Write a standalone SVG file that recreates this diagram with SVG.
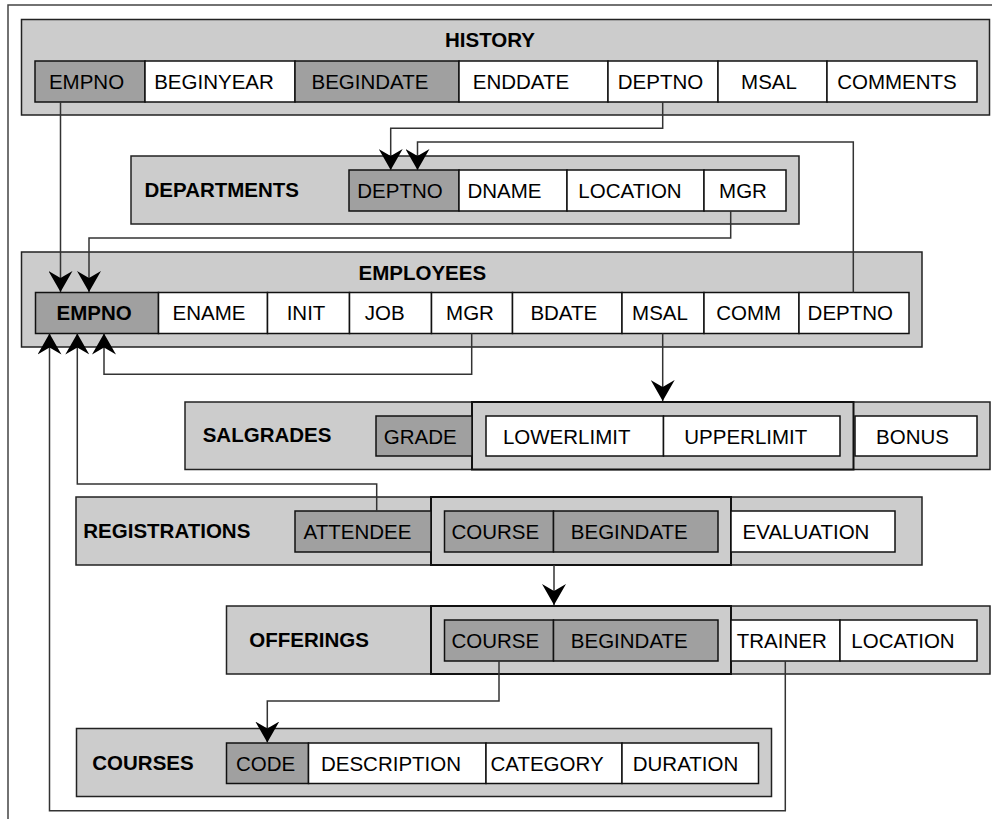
<svg xmlns="http://www.w3.org/2000/svg" width="992" height="819" viewBox="0 0 992 819">
<style>
  .frame{fill:none;stroke:#444;stroke-width:1.5}
  .tbl{fill:#cccccc;stroke:#222;stroke-width:1.5}
  .grp{fill:#cccccc;stroke:#111;stroke-width:2}
  .pk{fill:#a0a0a0;stroke:#111;stroke-width:1.5}
  .fld{fill:#ffffff;stroke:#111;stroke-width:1.5}
  .title{font-family:"Liberation Sans",Arial,Helvetica,sans-serif;font-size:20.5px;font-weight:bold;fill:#000}
  .t{font-family:"Liberation Sans",Arial,Helvetica,sans-serif;font-size:20.5px;fill:#000;text-anchor:middle}
  .tb{font-weight:bold}
  .conn{fill:none;stroke:#333;stroke-width:1.5;marker-end:url(#arr)}
</style>
<defs>
  <marker id="arr" viewBox="0 0 21 24" refX="21" refY="12" markerWidth="21" markerHeight="24" markerUnits="userSpaceOnUse" orient="auto">
    <path d="M0,0 L21,12 L0,24 L7,12 Z" fill="#000"/>
  </marker>
</defs>
<rect width="992" height="819" fill="#ffffff"/>
<path class="frame" d="M8,819 V5 H992"/>

<g id="history">
  <rect class="tbl" x="21.5" y="19.5" width="968" height="95.5"/>
  <text class="title" x="445" y="47">HISTORY</text>
  <rect class="pk" x="35" y="61" width="110" height="41"/>
  <rect class="fld" x="145" y="61" width="150" height="41"/>
  <rect class="pk" x="295" y="61" width="164" height="41"/>
  <rect class="fld" x="459" y="61" width="149" height="41"/>
  <rect class="fld" x="608" y="61" width="110" height="41"/>
  <rect class="fld" x="718" y="61" width="109" height="41"/>
  <rect class="fld" x="827" y="61" width="150" height="41"/>
  <text class="t" x="86.5" y="89">EMPNO</text>
  <text class="t" x="214" y="89">BEGINYEAR</text>
  <text class="t" x="370" y="89">BEGINDATE</text>
  <text class="t" x="521" y="89">ENDDATE</text>
  <text class="t" x="660.5" y="89">DEPTNO</text>
  <text class="t" x="769" y="89">MSAL</text>
  <text class="t" x="897" y="89">COMMENTS</text>
</g>

<g id="departments">
  <rect class="tbl" x="131" y="156" width="668" height="68"/>
  <text class="title" x="144.5" y="197">DEPARTMENTS</text>
  <rect class="pk" x="349" y="170" width="110" height="41"/>
  <rect class="fld" x="459" y="170" width="108" height="41"/>
  <rect class="fld" x="567" y="170" width="137" height="41"/>
  <rect class="fld" x="704" y="170" width="82" height="41"/>
  <text class="t" x="400" y="198">DEPTNO</text>
  <text class="t" x="504.5" y="198">DNAME</text>
  <text class="t" x="630" y="198">LOCATION</text>
  <text class="t" x="743" y="198">MGR</text>
</g>

<g id="employees">
  <rect class="tbl" x="21.5" y="252" width="900.5" height="95"/>
  <text class="title" x="358.5" y="279.5">EMPLOYEES</text>
  <rect class="pk" x="35.5" y="292.5" width="123" height="41"/>
  <rect class="fld" x="158.5" y="292.5" width="109" height="41"/>
  <rect class="fld" x="267.5" y="292.5" width="82" height="41"/>
  <rect class="fld" x="349.5" y="292.5" width="82" height="41"/>
  <rect class="fld" x="431.5" y="292.5" width="81" height="41"/>
  <rect class="fld" x="512.5" y="292.5" width="109.5" height="41"/>
  <rect class="fld" x="622" y="292.5" width="82" height="41"/>
  <rect class="fld" x="704" y="292.5" width="95" height="41"/>
  <rect class="fld" x="799" y="292.5" width="110" height="41"/>
  <text class="t tb" x="94.2" y="320">EMPNO</text>
  <text class="t" x="209" y="320">ENAME</text>
  <text class="t" x="306" y="320">INIT</text>
  <text class="t" x="384.7" y="320">JOB</text>
  <text class="t" x="470" y="320">MGR</text>
  <text class="t" x="563.8" y="320">BDATE</text>
  <text class="t" x="660" y="320">MSAL</text>
  <text class="t" x="748.7" y="320">COMM</text>
  <text class="t" x="850.3" y="320">DEPTNO</text>
</g>

<g id="salgrades">
  <rect class="tbl" x="185" y="402" width="805" height="67.5"/>
  <rect class="grp" x="472" y="402" width="381.5" height="67.5"/>
  <text class="title" x="202.7" y="441.7">SALGRADES</text>
  <rect class="pk" x="376" y="416" width="96" height="40"/>
  <rect class="fld" x="486" y="416" width="177.5" height="40"/>
  <rect class="fld" x="663.5" y="416" width="176.5" height="40"/>
  <rect class="fld" x="855" y="416" width="122" height="40"/>
  <text class="t" x="420.3" y="443.5">GRADE</text>
  <text class="t" x="566.7" y="443.5">LOWERLIMIT</text>
  <text class="t" x="745.8" y="443.5">UPPERLIMIT</text>
  <text class="t" x="912.5" y="443.5">BONUS</text>
</g>

<g id="registrations">
  <rect class="tbl" x="76" y="497" width="846" height="68"/>
  <rect class="grp" x="431" y="497" width="300" height="68"/>
  <text class="title" x="83.3" y="538.3">REGISTRATIONS</text>
  <rect class="pk" x="295" y="511" width="136" height="41"/>
  <rect class="pk" x="444.5" y="511" width="109" height="41"/>
  <rect class="pk" x="553.5" y="511" width="164.5" height="41"/>
  <rect class="fld" x="731" y="511" width="164" height="41"/>
  <text class="t" x="357.5" y="539">ATTENDEE</text>
  <text class="t" x="495.3" y="539">COURSE</text>
  <text class="t" x="629.3" y="539">BEGINDATE</text>
  <text class="t" x="806" y="539">EVALUATION</text>
</g>

<g id="offerings">
  <rect class="tbl" x="226.5" y="606" width="763.5" height="68"/>
  <rect class="grp" x="431" y="606" width="300" height="68"/>
  <text class="title" x="249.3" y="646.7">OFFERINGS</text>
  <rect class="pk" x="444.5" y="620" width="109" height="41"/>
  <rect class="pk" x="553.5" y="620" width="164.5" height="41"/>
  <rect class="fld" x="731" y="620" width="109" height="41"/>
  <rect class="fld" x="840" y="620" width="137" height="41"/>
  <text class="t" x="495.3" y="648">COURSE</text>
  <text class="t" x="629.3" y="648">BEGINDATE</text>
  <text class="t" x="781.7" y="648">TRAINER</text>
  <text class="t" x="903" y="648">LOCATION</text>
</g>

<g id="courses">
  <rect class="tbl" x="76.5" y="728.5" width="695" height="68"/>
  <text class="title" x="92.3" y="770">COURSES</text>
  <rect class="pk" x="226.5" y="743" width="82" height="40.5"/>
  <rect class="fld" x="308.5" y="743" width="177.5" height="40.5"/>
  <rect class="fld" x="486" y="743" width="136" height="40.5"/>
  <rect class="fld" x="622" y="743" width="136.5" height="40.5"/>
  <text class="t" x="265.5" y="770.5">CODE</text>
  <text class="t" x="391" y="770.5">DESCRIPTION</text>
  <text class="t" x="547" y="770.5">CATEGORY</text>
  <text class="t" x="685.5" y="770.5">DURATION</text>
</g>

<g id="connectors">
  <path class="conn" d="M60.5,102 V292"/>
  <path class="conn" d="M730.7,211 V238 H89 V292"/>
  <path class="conn" d="M662.7,102 V128.3 H390.7 V170"/>
  <path class="conn" d="M853.3,292.5 V142 H417.5 V170"/>
  <path class="conn" d="M471.7,333.5 V374.3 H104 V333.5"/>
  <path class="conn" d="M662.7,333.5 V401"/>
  <path class="conn" d="M376.7,511 V484 H77.3 V333.5"/>
  <path class="conn" d="M785.3,661 V810.7 H49.5 V333.5"/>
  <path class="conn" d="M554,565 V605"/>
  <path class="conn" d="M499,661 V701 H267.3 V742.5"/>
</g>
</svg>
